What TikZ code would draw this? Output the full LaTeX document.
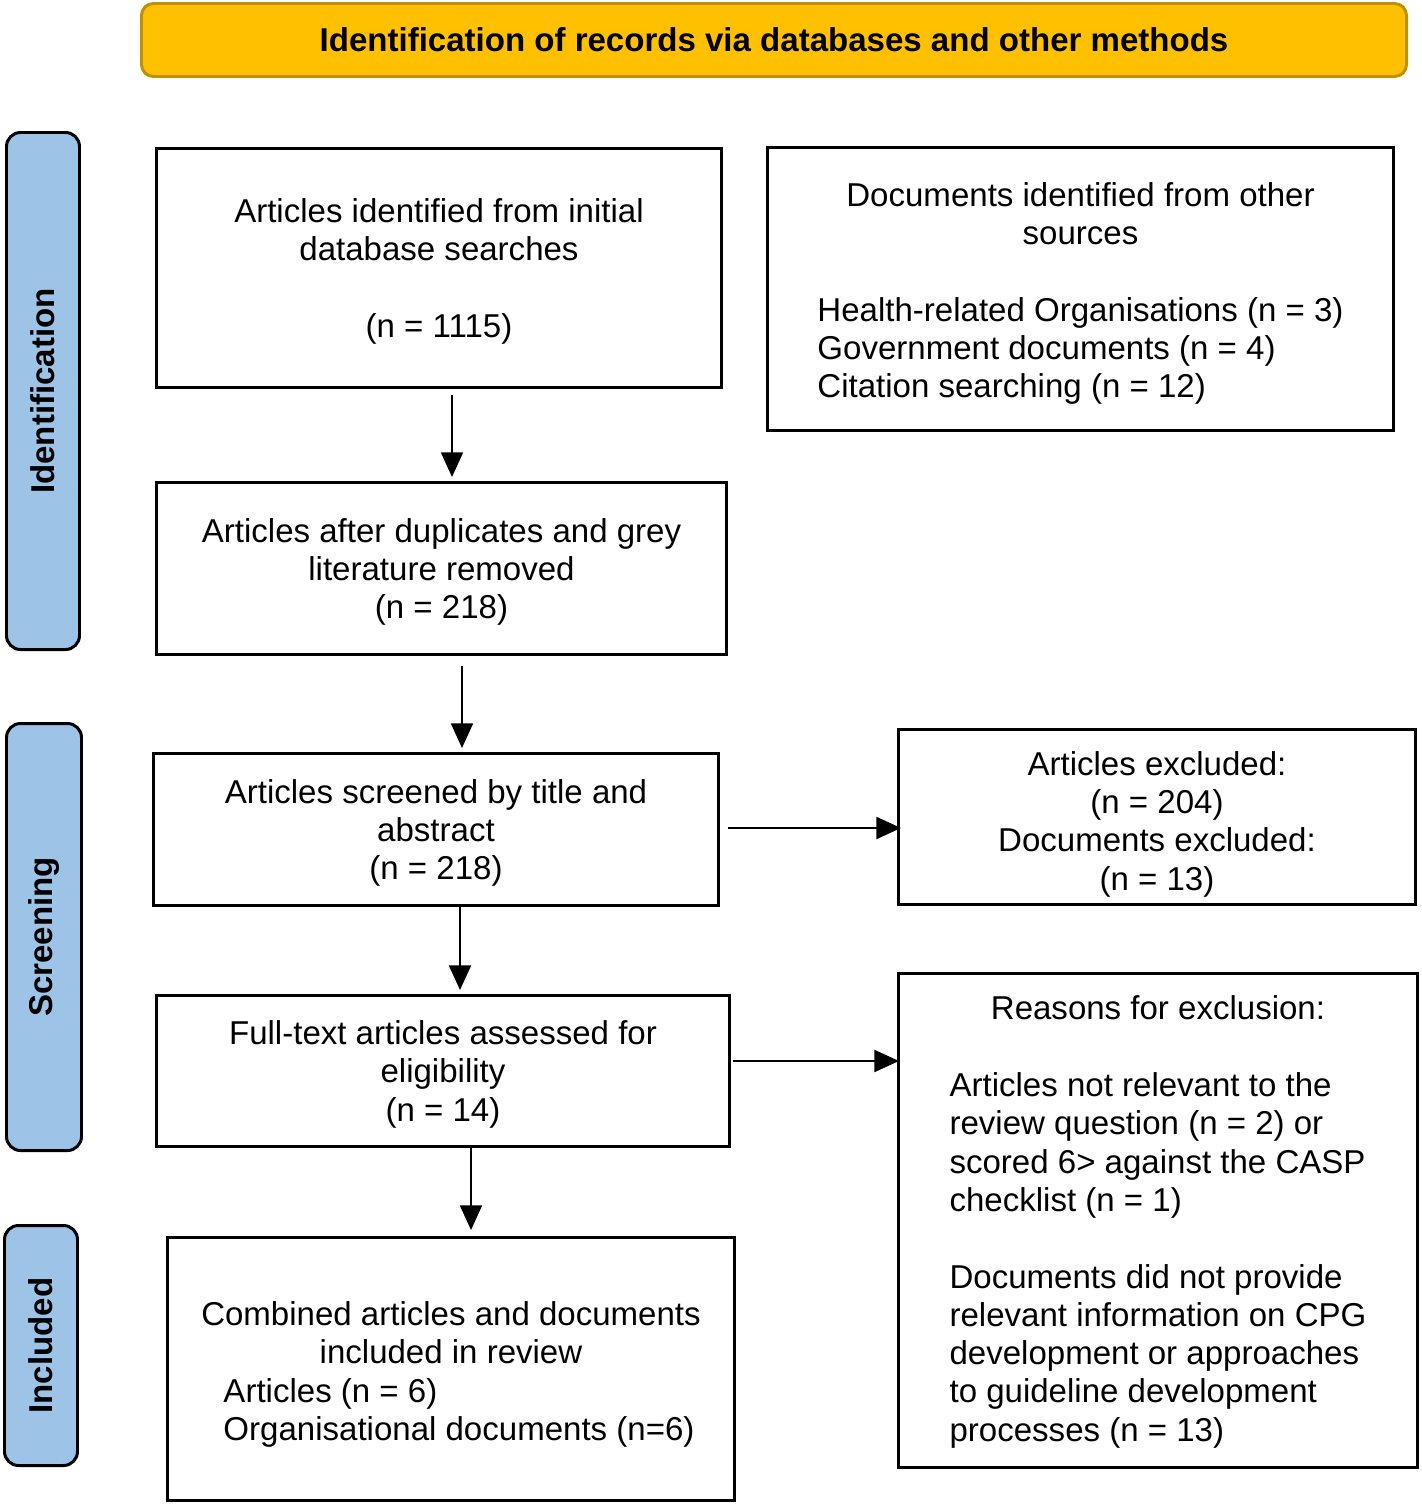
\documentclass[tikz,border=0pt]{standalone}
\usepackage{fontspec}
\setmainfont{Liberation Sans}
\usetikzlibrary{arrows.meta}
\definecolor{bannergold}{HTML}{FFC000}
\definecolor{bannerline}{HTML}{BF9000}
\definecolor{stageblue}{HTML}{9DC3E6}
\tikzset{
	flowbox/.style = {draw, line width = 1.7pt, align = center, inner sep = 0pt, font = \fontsize{18.8}{21.8}\selectfont},
	plainbox/.style = {flowbox, text depth = 0pt},
	banner/.style = {draw = bannerline, fill = bannergold, line width = 1.7pt, rounded corners = 0.24cm, inner sep = 0pt, font = \fontsize{18.8}{21.8}\selectfont\bfseries},
	stage/.style = {draw, fill = stageblue, line width = 1.7pt, rounded corners = 0.28cm, rotate = 90, inner sep = 0pt, font = \fontsize{18.8}{21.8}\selectfont\bfseries},
	flowarrow/.style = {line width = 1.1pt, -{Triangle[width = 12.5pt, length = 14pt]}}
}
\begin{document}
\begin{tikzpicture}
	\useasboundingbox (0, 0) rectangle (28.42, -30.10);
	
	\node[banner, minimum width = 25.30cm, minimum height = 1.46cm] (head) at (15.48, -0.80) {Identification of records via databases and other methods};
	
	\node[stage, minimum width = 10.34cm, minimum height = 1.46cm] (ident) at (0.86, -7.82) {Identification};
	\node[stage, minimum width = 8.54cm, minimum height = 1.50cm] (screen) at (0.88, -18.74) {Screening};
	\node[stage, minimum width = 4.80cm, minimum height = 1.46cm] (incl) at (0.82, -26.91) {Included};
	
	\node[plainbox, minimum width = 11.30cm, minimum height = 4.78cm] (search) at (8.78, -5.36) {Articles identified from initial\\database searches\\[21.8pt](n = 1115)};
	\node[flowbox, minimum width = 12.52cm, minimum height = 5.66cm] (other) at (21.61, -5.78) {\rule{0pt}{21.5pt}Documents identified from other\\sources\\[21.8pt]\begin{tabular}[t]{@{}l@{}}Health-related Organisations (n = 3)\\Government documents (n = 4)\\Citation searching (n = 12)\end{tabular}};
	\node[plainbox, minimum width = 11.40cm, minimum height = 3.44cm] (dedup) at (8.83, -11.37) {Articles after duplicates and grey\\literature removed\\(n = 218)};
	\node[plainbox, minimum width = 11.30cm, minimum height = 3.04cm] (screened) at (8.72, -16.59) {Articles screened by title and\\abstract\\(n = 218)};
	\node[plainbox, minimum width = 10.34cm, minimum height = 3.50cm] (excl) at (23.14, -16.34) {\rule{0pt}{18pt}Articles excluded:\\(n = 204)\\Documents excluded:\\(n = 13)};
	\node[plainbox, minimum width = 11.46cm, minimum height = 3.02cm] (fulltext) at (8.86, -21.42) {Full-text articles assessed for\\eligibility\\(n = 14)};
	\node[flowbox, minimum width = 10.38cm, minimum height = 9.88cm] (reasons) at (23.16, -24.41) {\rule{0pt}{18pt}Reasons for exclusion:\\[21.8pt]\begin{tabular}[t]{@{}l@{}}Articles not relevant to the\\review question (n = 2) or\\scored 6> against the CASP\\checklist (n = 1)\\[21.8pt]Documents did not provide\\relevant information on CPG\\development or approaches\\to guideline development\\processes (n = 13)\end{tabular}};
	\node[flowbox, minimum width = 11.34cm, minimum height = 5.26cm] (included) at (9.02, -27.38) {\rule{0pt}{22.5pt}Combined articles and documents\\included in review\\\hspace*{0.32cm}\begin{tabular}[t]{@{}l@{}}Articles (n = 6)\\Organisational documents (n=6)\end{tabular}};
	
	\draw[flowarrow] ([xshift = 0.26cm, yshift = -0.12cm]search.south) -- ([xshift = 0.21cm, yshift = 0.08cm]dedup.north);
	\draw[flowarrow] ([xshift = 0.41cm, yshift = -0.20cm]dedup.south) -- ([xshift = 0.52cm, yshift = 0.08cm]screened.north);
	\draw[flowarrow, shorten > = 0.08cm] ([xshift = 0.16cm, yshift = 0.03cm]screened.east) -- ([xshift = 0.16cm, yshift = 0.03cm]screened.east -| excl.west);
	\draw[flowarrow] ([xshift = 0.48cm]screened.south) -- ([xshift = 0.34cm, yshift = 0.08cm]fulltext.north);
	\draw[flowarrow] ([xshift = 0.04cm, yshift = 0.20cm]fulltext.east) -- ([xshift = 0.04cm, yshift = 0.20cm]fulltext.east -| reasons.west);
	\draw[flowarrow] ([xshift = 0.56cm]fulltext.south) -- ([xshift = 0.40cm, yshift = 0.12cm]included.north);
\end{tikzpicture}
\end{document}
